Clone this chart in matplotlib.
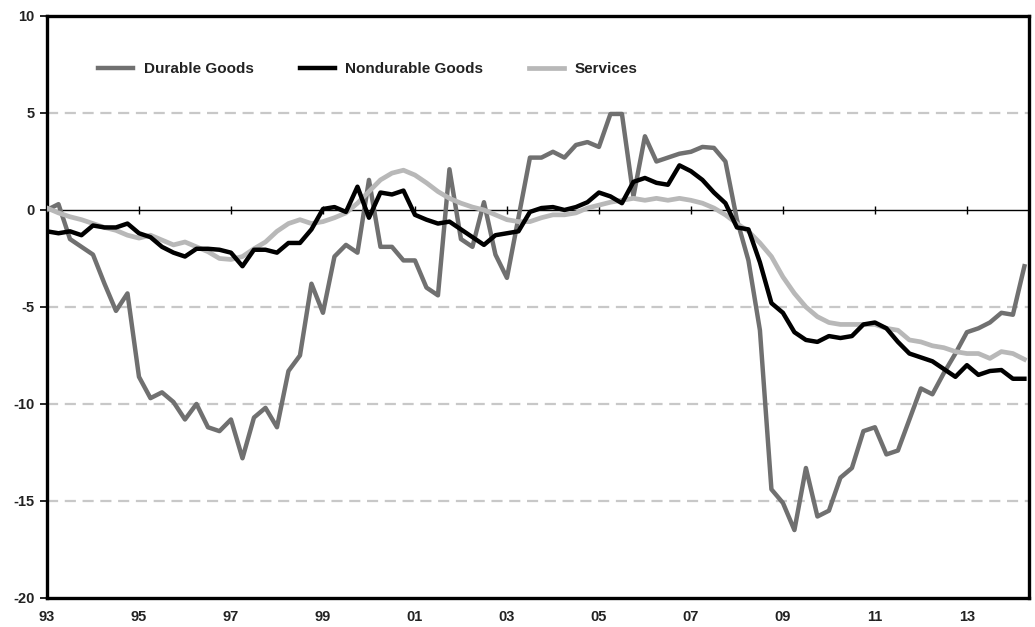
import matplotlib
matplotlib.use("Agg")
import matplotlib.pyplot as plt
import numpy as np

plt.rcParams['font.family'] = ['Liberation Sans', 'DejaVu Sans']
plt.rcParams['axes.unicode_minus'] = False

# quarterly, 1993Q1 .. 2014Q2
durable = [0.0, 0.3, -1.5, -1.9, -2.3, -3.8, -5.2, -4.3,
           -8.6, -9.7, -9.4, -9.9, -10.8, -10.0, -11.2, -11.4,
           -10.8, -12.8, -10.7, -10.2, -11.2, -8.3, -7.5, -3.8,
           -5.3, -2.4, -1.8, -2.2, 1.55, -1.9, -1.9, -2.6,
           -2.6, -4.0, -4.4, 2.1, -1.5, -1.9, 0.4, -2.3,
           -3.5, -0.4, 2.7, 2.7, 3.0, 2.7, 3.35, 3.5,
           3.25, 4.95, 4.95, 0.7, 3.8, 2.5, 2.7, 2.9,
           3.0, 3.25, 3.2, 2.5, -0.5, -2.6, -6.2, -14.4,
           -15.1, -16.5, -13.3, -15.8, -15.5, -13.8, -13.3, -11.4,
           -11.2, -12.6, -12.4, -10.8, -9.2, -9.5, -8.4, -7.4,
           -6.3, -6.1, -5.8, -5.3, -5.4, -2.9]

nondurable = [-1.1, -1.2, -1.1, -1.3, -0.8, -0.9, -0.9, -0.7,
              -1.2, -1.4, -1.9, -2.2, -2.4, -2.0, -2.0, -2.05,
              -2.2, -2.9, -2.05, -2.05, -2.2, -1.7, -1.7, -1.0,
              0.05, 0.15, -0.1, 1.2, -0.4, 0.9, 0.8, 1.0,
              -0.25, -0.5, -0.7, -0.6, -1.0, -1.4, -1.8, -1.3,
              -1.2, -1.1, -0.1, 0.1, 0.15, 0.0, 0.15, 0.4,
              0.9, 0.7, 0.35, 1.45, 1.65, 1.4, 1.3, 2.3,
              2.0, 1.55, 0.9, 0.35, -0.9, -1.0, -2.7, -4.8,
              -5.3, -6.3, -6.7, -6.8, -6.5, -6.6, -6.5, -5.9,
              -5.8, -6.1, -6.8, -7.4, -7.6, -7.8, -8.2, -8.6,
              -8.0, -8.5, -8.3, -8.25, -8.7, -8.7]

services = [0.1, -0.15, -0.35, -0.5, -0.7, -0.9, -1.05, -1.3,
            -1.45, -1.3, -1.55, -1.8, -1.65, -1.9, -2.15, -2.5,
            -2.55, -2.4, -2.0, -1.65, -1.1, -0.7, -0.5, -0.7,
            -0.6, -0.4, -0.15, 0.35, 0.95, 1.55, 1.9, 2.05,
            1.8, 1.4, 0.95, 0.6, 0.35, 0.15, 0.0, -0.25,
            -0.5, -0.6, -0.6, -0.4, -0.25, -0.25, -0.15, 0.1,
            0.25, 0.4, 0.5, 0.6, 0.5, 0.6, 0.5, 0.6,
            0.5, 0.35, 0.1, -0.25, -0.7, -1.1, -1.7, -2.4,
            -3.45, -4.3, -5.0, -5.5, -5.8, -5.9, -5.9, -5.9,
            -5.9, -6.1, -6.2, -6.7, -6.8, -7.0, -7.1, -7.3,
            -7.4, -7.4, -7.65, -7.3, -7.4, -7.7]

t = 1993 + np.arange(len(durable)) / 4.0
tick_years = np.arange(1993, 2014, 2)
tick_labels = ['%02d' % (y % 100) for y in tick_years]
grid_levels = [5, -5, -10, -15]

fig = plt.figure(figsize=(10.35, 6.27), dpi=100)
ax = fig.add_axes([0.0454, 0.0463, 0.9488, 0.9282])

for g in grid_levels:
    ax.axhline(g, color='#c8c8c8', lw=1.6, ls=(0, (5, 3)), zorder=1)
ax.axhline(0, color='black', lw=1.0, zorder=2)
ax.vlines(tick_years[1:], -0.22, 0.22, color='black', lw=1.0, zorder=2)

ax.plot(t, durable, color='#707070', lw=3.2, label='Durable Goods', zorder=3)
ax.plot(t, nondurable, color='black', lw=3.2, label='Nondurable Goods', zorder=4)
ax.plot(t, services, color='#b8b8b8', lw=3.4, label='Services', zorder=3)

ax.set_xlim(1993, 2014.35)
ax.set_ylim(-20, 10)
ax.set_yticks([10, 5, 0, -5, -10, -15, -20])
ax.set_xticks(tick_years)
ax.set_xticklabels(tick_labels)

for s in ax.spines.values():
    s.set_linewidth(2.4)
    s.set_color('black')

ax.tick_params(axis='y', direction='out', length=5, width=1.2, pad=4,
               labelsize=10.5)
ax.tick_params(axis='x', length=0, pad=9, labelsize=10.5)
for lab in ax.get_xticklabels() + ax.get_yticklabels():
    lab.set_fontweight('bold')
    lab.set_color('#222222')

leg = ax.legend(loc='center left', bbox_to_anchor=(0.038, 0.909), ncol=3,
                frameon=False, handlelength=2.3, handletextpad=0.7,
                columnspacing=3.0, prop={'size': 11, 'weight': 'bold'})
for txt in leg.get_texts():
    txt.set_color('#222222')

fig.savefig('out.png', dpi=100)
plt.close(fig)
